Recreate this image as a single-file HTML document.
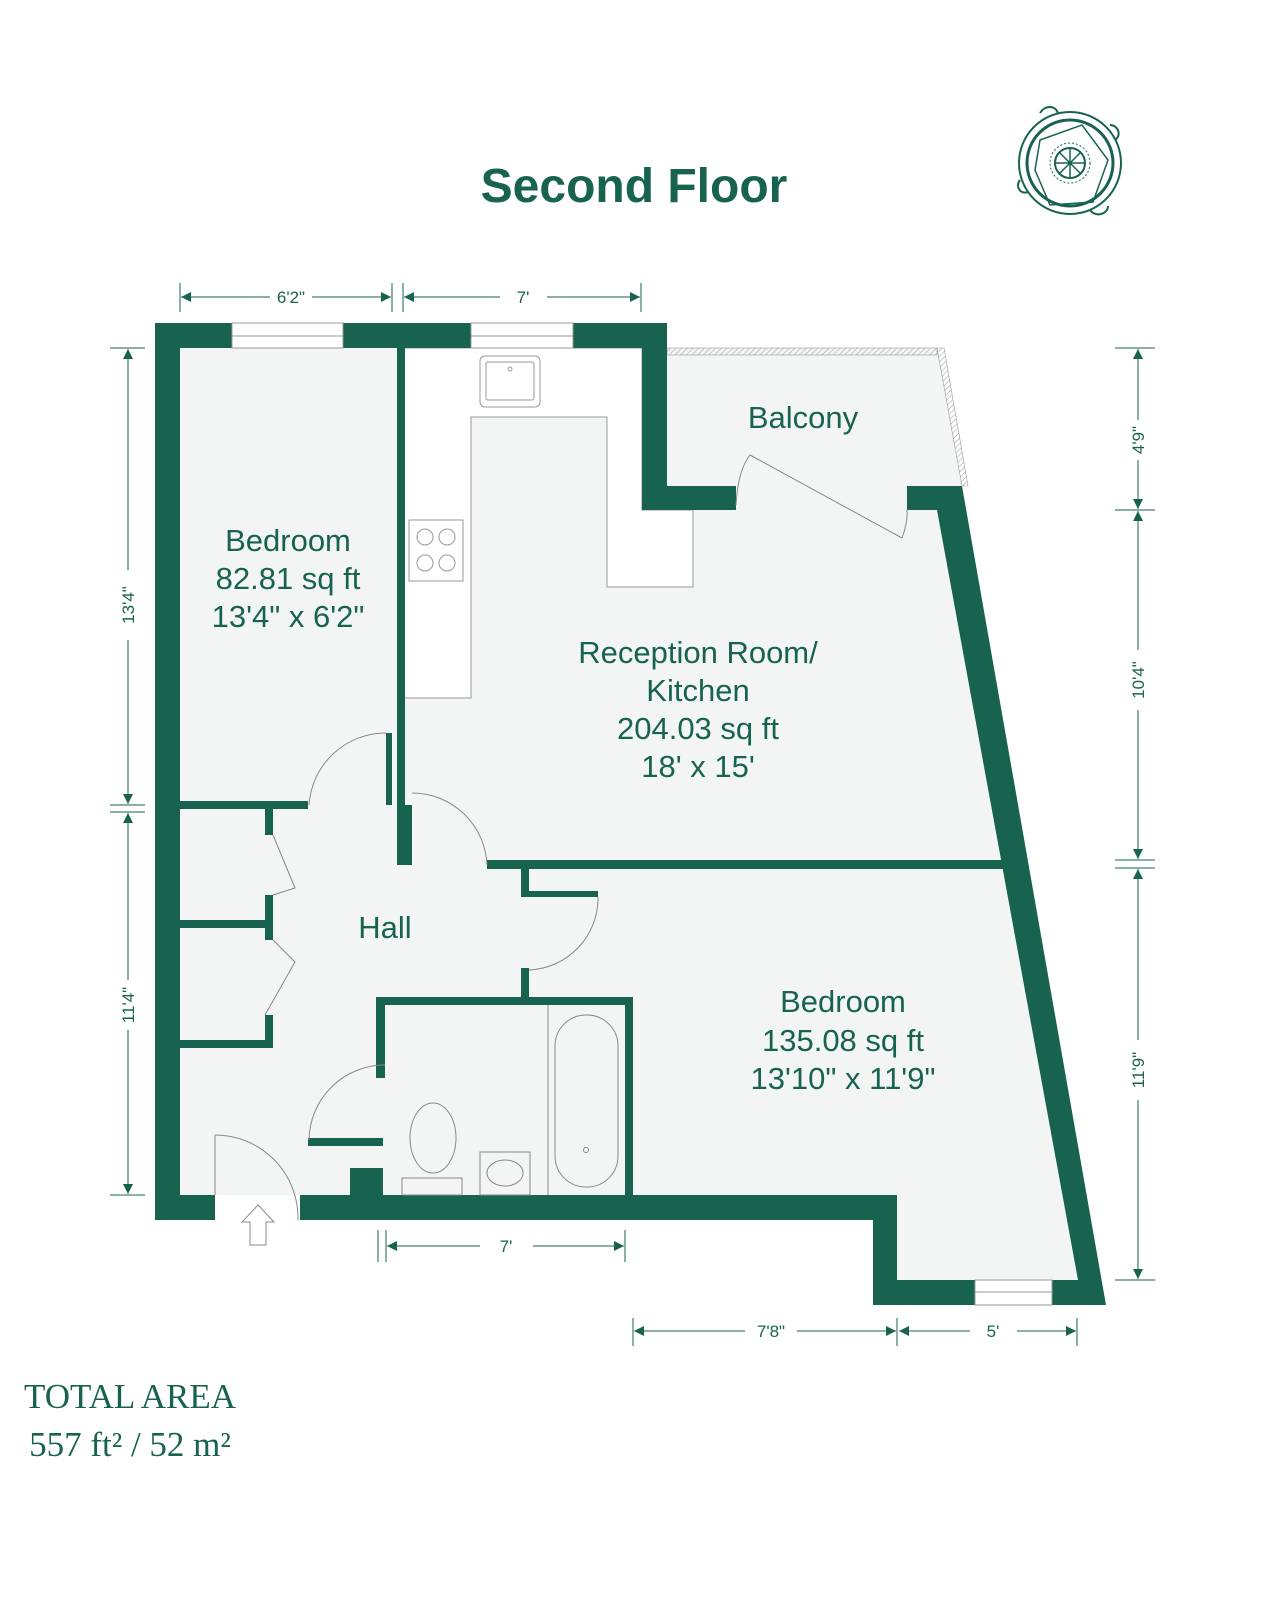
<!DOCTYPE html>
<html><head><meta charset="utf-8"><style>
html,body{margin:0;padding:0;background:#fff;}
svg{display:block;}
.t{font-family:"Liberation Sans",sans-serif;fill:#17634f;}
</style></head><body>
<svg width="1265" height="1600" viewBox="0 0 1265 1600" xmlns="http://www.w3.org/2000/svg">
<defs>
<marker id="ar" viewBox="0 0 10 10" refX="10" refY="5" markerWidth="22" markerHeight="10" markerUnits="userSpaceOnUse" orient="auto"><path d="M0,0 L10,5 L0,10 z" fill="#17634f"/></marker>
<pattern id="hatch" width="4" height="4" patternUnits="userSpaceOnUse" patternTransform="rotate(45)"><line x1="0" y1="0" x2="0" y2="4" stroke="#999" stroke-width="1"/></pattern>
</defs>
<rect width="1265" height="1600" fill="#fff"/>
<text x="634" y="202" text-anchor="middle" class="t" font-size="48" font-weight="bold">Second Floor</text>

<!-- compass -->
<g fill="none" stroke="#17634f">
<circle cx="1070" cy="163" r="51" stroke-width="2"/>
<circle cx="1070" cy="163" r="43" stroke-width="3"/>
<polygon points="1040,140 1082,125 1108,160 1093,202 1050,205 1035,170" stroke-width="1.5"/>
<circle cx="1070" cy="163" r="20" stroke-width="1" stroke-dasharray="2 2"/>
<circle cx="1070" cy="163" r="15" stroke-width="2"/>
<path d="M1055,163h30M1070,148v30M1059,152l22,22M1081,152l-22,22" stroke-width="1.5"/>
<path d="M1040,113c5,-8 15,-8 18,0M1110,125c8,0 12,10 5,15M1020,180c-5,6 0,15 8,12M1090,210c6,8 18,4 18,-4" stroke-width="2"/>
</g>

<!-- floor fills -->
<polygon points="180,348 642,348 642,486 962,486 1078,1280 897,1280 897,1195 180,1195" fill="#f3f5f4"/>
<polygon points="667,348 937,348 962,486 667,486" fill="#f3f5f4"/>
<rect x="667" y="348" width="270" height="7" fill="url(#hatch)" stroke="#999" stroke-width="0.6"/>
<polygon points="937,348 944,348 968,486 962,486" fill="url(#hatch)" stroke="#999" stroke-width="0.6"/>

<!-- kitchen counters -->
<g fill="#fff" stroke="#999" stroke-width="1">
<path d="M403,348 H642 V510 H693 V587 H607 V417 H471 V698 H403 Z"/>
<rect x="480" y="356" width="60" height="51" rx="5"/>
<rect x="486" y="362" width="48" height="38" rx="2"/>
<circle cx="510" cy="369" r="2"/>
<rect x="409" y="520" width="54" height="61"/>
<circle cx="425" cy="537" r="8"/><circle cx="447" cy="537" r="8"/>
<circle cx="425" cy="563" r="8"/><circle cx="447" cy="563" r="8"/>
</g>

<!-- walls -->
<g fill="#17634f">
<rect x="155" y="323" width="25" height="897"/>
<rect x="155" y="323" width="77" height="25"/>
<rect x="343" y="323" width="128" height="25"/>
<rect x="573" y="323" width="94" height="25"/>
<rect x="642" y="323" width="25" height="187"/>
<rect x="642" y="486" width="94" height="24"/>
<polygon points="907,486 962,486 1106,1305 1052,1305 1052,1280 1078,1280 937,510 907,510"/>
<rect x="155" y="1195" width="60" height="25"/>
<rect x="300" y="1195" width="597" height="25"/>
<rect x="873" y="1195" width="24" height="110"/>
<rect x="873" y="1280" width="102" height="25"/>
<rect x="350" y="1168" width="33" height="30"/>
<!-- interior -->
<rect x="397" y="348" width="8" height="517"/>
<rect x="386" y="733" width="6" height="72"/>
<rect x="405" y="805" width="7" height="60"/>
<rect x="180" y="801" width="128" height="8"/>
<rect x="180" y="920" width="90" height="8"/>
<rect x="180" y="1040" width="93" height="8"/>
<rect x="265" y="809" width="8" height="26"/>
<rect x="265" y="895" width="8" height="45"/>
<rect x="265" y="1015" width="8" height="30"/>
<rect x="487" y="860" width="516" height="9"/>
<rect x="521" y="869" width="8" height="26"/>
<rect x="521" y="891" width="77" height="6"/>
<rect x="521" y="968" width="8" height="32"/>
<rect x="376" y="997" width="257" height="8"/>
<rect x="376" y="997" width="9" height="81"/>
<rect x="625" y="997" width="8" height="198"/>
<rect x="308" y="1138" width="75" height="8"/>
</g>
<!-- windows -->
<g fill="#fff" stroke="#999" stroke-width="1">
<rect x="232" y="323" width="111" height="25"/>
<rect x="471" y="323" width="102" height="25"/>
<rect x="975" y="1280" width="77" height="25"/>
</g>
<path d="M232,336H343M471,336H573M975,1292H1052" stroke="#999"/>

<!-- doors -->
<g fill="none" stroke="#888" stroke-width="1">
<path d="M386,733 A77,77 0 0 0 309,805"/>
<path d="M412,793 A75,75 0 0 1 487,865"/>
<path d="M598,897 A72,72 0 0 1 529,970"/>
<path d="M385,1065 A76,76 0 0 0 309,1140"/>
<path d="M215,1135 A83,83 0 0 1 298,1220"/>
<line x1="215" y1="1135" x2="215" y2="1195"/>
<path d="M750,455 L902,538 M736,505 Q738,470 750,455 M902,538 Q908,522 907,510"/>
<path d="M273,835 L295,888 L273,895 M273,940 L295,962 L265,1015"/>
<path d="M548,1005 V1195"/>
<rect x="555" y="1015" width="63" height="172" rx="31"/>
<circle cx="586" cy="1150" r="2.5"/>
<ellipse cx="433" cy="1138" rx="23" ry="35"/>
<rect x="402" y="1178" width="60" height="17"/>
<rect x="480" y="1152" width="50" height="43"/>
<ellipse cx="505" cy="1173" rx="18" ry="13"/>
<path d="M250,1245 V1222 H242 L258,1205 L274,1222 H266 V1245 Z" stroke="#888"/>
</g>

<!-- labels -->
<g class="t" font-size="31" text-anchor="middle">
<text x="288" y="551">Bedroom</text>
<text x="288" y="589">82.81 sq ft</text>
<text x="288" y="627">13'4" x 6'2"</text>
<text x="803" y="428">Balcony</text>
<text x="698" y="663">Reception Room/</text>
<text x="698" y="701">Kitchen</text>
<text x="698" y="739">204.03 sq ft</text>
<text x="698" y="777">18' x 15'</text>
<text x="385" y="938">Hall</text>
<text x="843" y="1012">Bedroom</text>
<text x="843" y="1051">135.08 sq ft</text>
<text x="843" y="1089">13'10" x 11'9"</text>
</g>

<!-- dimensions -->
<g stroke="#17634f" stroke-width="1" fill="none">
<path d="M180,283V312M392,283V312M403,283V312M641,283V312"/>
<path d="M270,297H181" marker-end="url(#ar)"/><path d="M312,297H391" marker-end="url(#ar)"/>
<path d="M500,297H404" marker-end="url(#ar)"/><path d="M547,297H640" marker-end="url(#ar)"/>
<path d="M110,348H145M110,805H145M110,812H145M110,1195H145"/>
<path d="M128,570V349" marker-end="url(#ar)"/><path d="M128,640V804" marker-end="url(#ar)"/>
<path d="M128,980V813" marker-end="url(#ar)"/><path d="M128,1030V1194" marker-end="url(#ar)"/>
<path d="M1115,348H1155M1115,510H1155M1115,860H1155M1115,868H1155M1115,1280H1155"/>
<path d="M1138,420V349" marker-end="url(#ar)"/><path d="M1138,460V509" marker-end="url(#ar)"/>
<path d="M1138,650V511" marker-end="url(#ar)"/><path d="M1138,710V859" marker-end="url(#ar)"/>
<path d="M1138,1040V869" marker-end="url(#ar)"/><path d="M1138,1100V1279" marker-end="url(#ar)"/>
<path d="M378,1230V1262M386,1230V1262M625,1230V1262"/>
<path d="M480,1246H387" marker-end="url(#ar)"/><path d="M533,1246H624" marker-end="url(#ar)"/>
<path d="M633,1318V1346M897,1318V1346M1077,1318V1346"/>
<path d="M745,1331H634" marker-end="url(#ar)"/><path d="M797,1331H896" marker-end="url(#ar)"/>
<path d="M970,1331H899" marker-end="url(#ar)"/><path d="M1017,1331H1076" marker-end="url(#ar)"/>
</g>
<g class="t" font-size="17" text-anchor="middle">
<text x="291" y="303">6'2"</text>
<text x="523" y="303">7'</text>
<text x="506" y="1252">7'</text>
<text x="771" y="1337">7'8"</text>
<text x="993" y="1337">5'</text>
<text transform="translate(134,605) rotate(-90)">13'4"</text>
<text transform="translate(134,1005) rotate(-90)">11'4"</text>
<text transform="translate(1144,440) rotate(-90)">4'9"</text>
<text transform="translate(1144,680) rotate(-90)">10'4"</text>
<text transform="translate(1144,1070) rotate(-90)">11'9"</text>
</g>

<text x="130" y="1408" text-anchor="middle" font-family="Liberation Serif,serif" font-size="35" fill="#17634f">TOTAL AREA</text>
<text x="130" y="1456" text-anchor="middle" font-family="Liberation Serif,serif" font-size="35" fill="#17634f">557 ft² / 52 m²</text>
</svg>
</body></html>
